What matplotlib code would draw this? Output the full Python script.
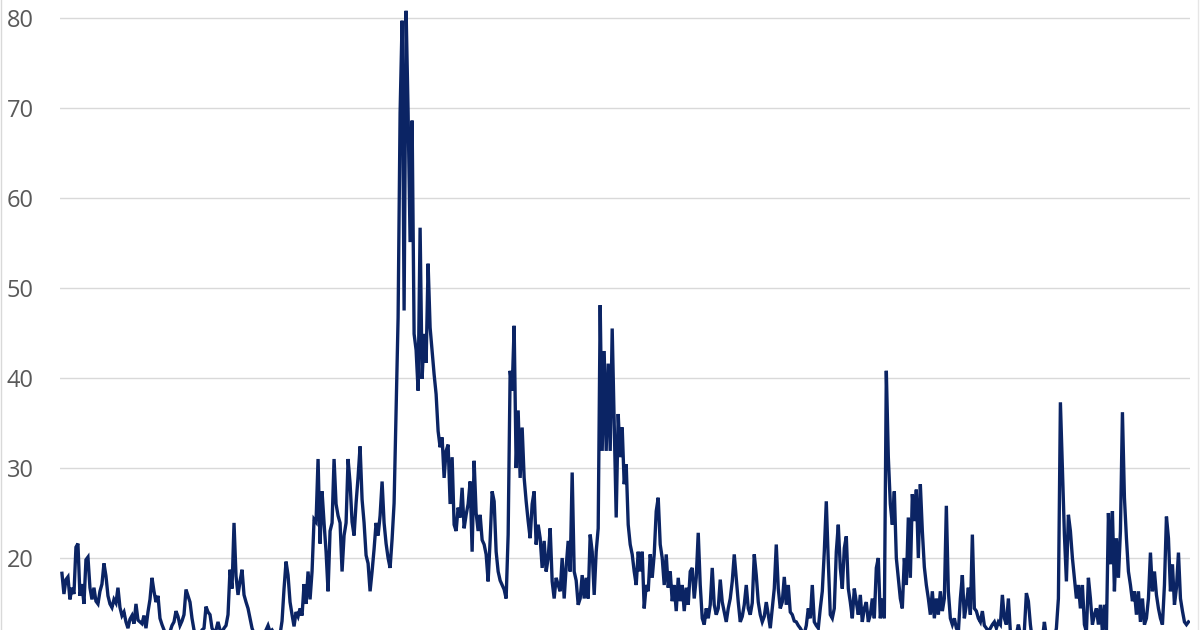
import matplotlib
matplotlib.use("Agg")
import matplotlib.pyplot as plt
from matplotlib.lines import Line2D
import pandas as pd

# daily closes, roughly every 10 days, Jan 2004 - Nov 2019
vix = [
    18.3, 16.0, 17.6, 17.9, 15.4, 16.7, 16.0, 21.2, 21.6, 15.8,
    17.1, 14.9, 19.8, 20.1, 16.7, 15.4, 16.7, 15.2, 14.9, 16.3,
    17.1, 19.4, 18.0, 15.8, 14.9, 14.5, 15.4, 15.0, 16.7, 14.5,
    13.6, 14.0, 12.9, 12.2, 13.2, 13.6, 12.7, 14.9, 13.1, 12.9,
    12.7, 13.6, 12.2, 14.0, 15.4, 17.8, 16.3, 15.1, 15.8, 13.3,
    12.6, 12.0, 11.5, 11.8, 11.8, 12.5, 12.9, 14.1, 13.5, 12.5,
    13.0, 13.7, 16.5, 15.8, 15.1, 13.3, 12.0, 11.5, 11.3, 11.3,
    12.0, 12.2, 14.6, 14.0, 13.7, 12.2, 11.8, 12.0, 12.9, 12.0,
    11.8, 12.2, 12.5, 13.7, 18.7, 16.6, 23.9, 18.0, 15.9, 17.4,
    18.7, 15.9, 15.1, 14.4, 13.3, 12.2, 11.6, 11.3, 11.5, 11.8,
    11.5, 11.6, 12.0, 12.5, 11.8, 12.0, 11.6, 11.2, 11.4, 11.5,
    13.0, 16.6, 19.6, 18.1, 15.1, 13.7, 12.4, 14.0, 13.5, 14.4,
    13.6, 17.1, 14.9, 18.5, 15.4, 18.5, 24.3, 24.0, 31.0, 21.6,
    27.4, 23.9, 20.7, 16.3, 23.0, 23.9, 31.0, 26.0, 24.7, 23.9,
    18.5, 22.5, 23.9, 31.0, 28.3, 24.0, 22.5, 26.1, 29.0, 32.4,
    26.5, 23.9, 20.3, 19.4, 16.3, 18.5, 21.0, 23.9, 22.5, 24.7,
    28.5, 23.9, 21.6, 20.0, 18.9, 22.1, 26.1, 36.4, 46.7, 69.5,
    79.7, 47.5, 80.8, 69.5, 55.1, 68.6, 44.9, 43.1, 38.6, 56.7,
    39.9, 44.9, 41.7, 52.7, 45.6, 43.0, 40.4, 38.2, 34.1, 32.3,
    33.4, 28.9, 31.9, 32.6, 26.0, 31.2, 23.7, 23.0, 25.6, 24.5,
    27.8, 23.3, 24.8, 26.0, 28.5, 20.7, 30.8, 25.0, 23.0, 24.8,
    22.0, 21.5, 20.4, 17.4, 22.0, 27.4, 26.3, 20.7, 18.5, 17.5,
    17.0, 16.5, 15.5, 22.6, 40.8, 38.6, 45.8, 30.0, 36.4, 28.9,
    34.5, 28.9, 26.3, 24.1, 22.2, 26.0, 27.4, 21.5, 23.7, 22.2,
    18.9, 21.9, 18.5, 20.0, 23.3, 17.4, 15.5, 17.8, 17.0, 16.3,
    20.0, 15.5, 19.0, 21.9, 18.5, 29.5, 18.5, 17.5, 14.8, 15.5,
    18.1, 15.5, 17.8, 15.5, 22.6, 20.7, 15.9, 20.7, 23.3, 48.1,
    31.9, 43.0, 31.9, 41.6, 31.9, 45.5, 34.9, 24.5, 36.0, 31.2,
    34.5, 28.2, 30.4, 23.7, 21.5, 20.4, 18.5, 17.0, 20.7, 18.5,
    20.7, 14.4, 17.0, 16.3, 20.4, 17.8, 20.4, 25.2, 26.7, 21.5,
    20.0, 17.0, 20.4, 16.7, 18.5, 15.2, 17.0, 14.1, 17.8, 15.2,
    17.0, 14.1, 16.7, 14.8, 18.5, 18.9, 15.5, 17.8, 22.8, 17.0,
    13.3, 12.6, 14.4, 13.3, 14.8, 18.9, 14.8, 13.7, 14.4, 17.6,
    15.1, 14.0, 12.9, 14.4, 15.5, 17.4, 20.4, 17.8, 15.1, 12.9,
    13.5, 14.8, 17.0, 14.4, 13.7, 15.0, 20.4, 18.1, 15.1, 13.7,
    12.9, 13.5, 15.1, 13.7, 12.2, 14.4, 16.6, 21.5, 16.6, 14.4,
    15.1, 17.9, 14.8, 17.0, 14.0, 13.7, 13.0, 12.9, 12.5, 12.2,
    11.8, 11.6, 12.5, 14.4, 13.3, 17.0, 12.9, 12.5, 12.2, 14.4,
    16.3, 20.7, 26.3, 19.6, 13.7, 13.3, 14.4, 20.7, 23.7, 18.9,
    16.6, 21.1, 22.4, 16.6, 15.1, 13.3, 16.6, 15.1, 13.7, 15.9,
    12.9, 14.4, 15.1, 12.9, 13.7, 15.5, 13.3, 18.9, 20.0, 13.3,
    15.5, 13.3, 40.8, 31.2, 26.0, 23.7, 27.4, 20.0, 17.8, 15.5,
    14.4, 20.0, 17.0, 24.5, 17.8, 27.1, 24.1, 27.6, 20.0, 28.2,
    23.0, 19.0, 17.0, 15.5, 13.7, 16.3, 13.3, 15.5, 13.7, 16.3,
    14.1, 15.5, 25.8, 16.3, 13.3, 12.6, 13.3, 12.2, 11.8, 15.5,
    18.1, 13.3, 14.8, 16.7, 13.7, 22.6, 14.4, 14.1, 13.3, 12.9,
    14.1, 12.5, 12.2, 11.8, 12.2, 12.6, 12.9, 12.2, 12.9, 12.6,
    15.9, 13.3, 12.6, 15.5, 11.8, 11.0, 11.2, 11.5, 12.6, 11.5,
    11.0, 12.0, 16.1, 15.2, 12.6, 10.8, 10.6, 10.5, 10.5, 10.8,
    11.0, 12.9, 11.2, 10.8, 10.6, 10.5, 11.0, 12.2, 15.5, 37.3,
    30.0, 22.6, 17.4, 24.8, 23.0, 20.0, 17.8, 15.5, 17.0, 14.4,
    17.0, 12.6, 11.8, 17.8, 15.5, 12.6, 13.7, 14.4, 12.6, 14.8,
    11.8, 14.8, 11.8, 25.0, 19.3, 25.2, 16.3, 22.2, 17.8, 23.0,
    36.2, 26.7, 22.2, 18.5, 17.0, 15.2, 16.3, 13.7, 16.3, 12.9,
    15.5, 12.6, 13.3, 15.5, 20.6, 16.3, 18.5, 15.9, 14.4, 13.3,
    12.6, 17.0, 24.6, 22.2, 16.3, 19.3, 14.8, 16.7, 20.6, 15.5,
    14.1, 12.9, 12.6, 12.9,
]
dates = pd.date_range("2004-01-07", "2019-11-28", periods=len(vix))
yticks = [20, 30, 40, 50, 60, 70, 80]

plt.rcParams['font.family'] = ['Open Sans', 'DejaVu Sans']

fig = plt.figure(figsize=(12, 6.3), dpi=100)
ax = fig.add_axes([0.05, 0.0, 0.942, 1.0])

ax.plot(dates, vix, color='#0b2464', lw=2.4, solid_joinstyle='miter')

ax.set_ylim(12, 82)
ax.set_xlim(dates[0] - pd.Timedelta(days=10), dates[-1] + pd.Timedelta(days=10))
ax.set_yticks(yticks)
ax.set_yticklabels([str(t) for t in yticks], fontsize=17, color='#595959')
ax.tick_params(axis='y', length=0, pad=19)
ax.set_xticks([])
ax.grid(axis='y', color='#d9d9d9', lw=1)
ax.set_axisbelow(True)
for s in ax.spines.values():
    s.set_visible(False)

# thin frame lines at the picture edges
fig.add_artist(Line2D([0.001, 0.001], [0, 1], color='#d9d9d9', lw=1))
fig.add_artist(Line2D([0.998, 0.998], [0, 1], color='#e6e6e6', lw=1))

fig.savefig('out.png', dpi=100)
